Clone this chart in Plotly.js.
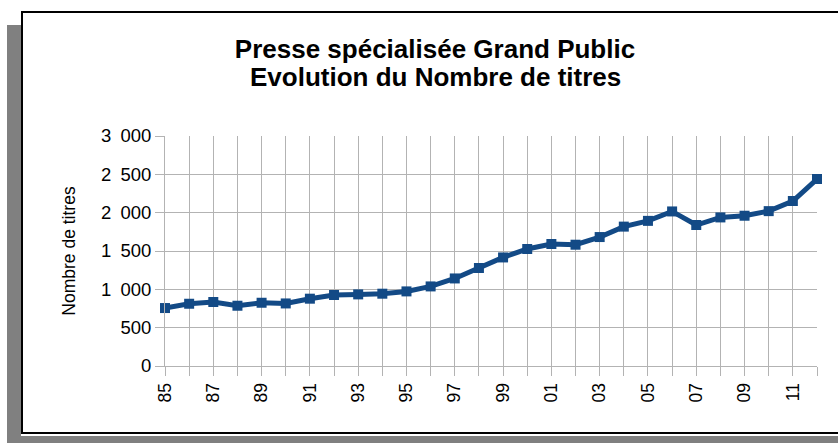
<!DOCTYPE html>
<html>
<head>
<meta charset="utf-8">
<script src="https://cdn.plot.ly/plotly-3.0.1.min.js"></script>
<style>
  html, body { margin: 0; padding: 0; background: #ffffff; }
  #wrap { position: relative; width: 838px; height: 443px; overflow: hidden; background: #ffffff; }
  .shadowL { position: absolute; left: 7px; top: 25px; width: 14px; height: 418px; background: #808080; }
  .shadowB { position: absolute; left: 7px; top: 436px; width: 831px; height: 7px; background: #808080; }
  .frame { position: absolute; left: 21px; top: 11px; width: 840px; height: 419px; border: 2px solid #000; background: #ffffff; }
  #chart { position: absolute; left: 0; top: 0; width: 838px; height: 443px; }
</style>
</head>
<body>
<div id="wrap">
  <div class="shadowL"></div>
  <div class="shadowB"></div>
  <div class="frame"></div>
  <div id="chart"></div>
</div>
<script>
const categories = ['85','86','87','88','89','90','91','92','93','94','95','96','97','98','99',
                    '00','01','02','03','04','05','06','07','08','09','10','11','12'];
const titres = [756, 812, 835, 786, 825, 816, 878, 926, 934, 943, 973, 1038, 1142, 1278, 1416,
                1526, 1591, 1582, 1682, 1818, 1893, 2016, 1839, 1938, 1960, 2020, 2152, 2439];
const xTickLabels = ['85','','87','','89','','91','','93','','95','','97','','99','',
                     '01','','03','','05','','07','','09','','11',''];
const yTickVals = [0, 500, 1000, 1500, 2000, 2500, 3000];
const yTickLabels = ['0', '500', '1\u2002000', '1\u2002500', '2\u2002000', '2\u2002500', '3\u2002000'];
const titleLine1 = 'Presse spécialisée Grand Public';
const titleLine2 = 'Evolution du Nombre de titres';
const yTitle = 'Nombre de titres';

const FONT = 'Liberation Sans, Arial, sans-serif';
const GRID = '#b3b3b3';

const trace = {
  type: 'scatter',
  mode: 'lines+markers',
  x: categories,
  y: titres,
  line: { color: '#134a86', width: 5 },
  marker: { symbol: 'square', size: 10, color: '#134a86' },
  cliponaxis: false,
  hoverinfo: 'x+y'
};

const layout = {
  width: 838,
  height: 443,
  margin: { l: 165, r: 21, t: 136, b: 77, pad: 0 },
  paper_bgcolor: 'rgba(0,0,0,0)',
  plot_bgcolor: 'rgba(0,0,0,0)',
  showlegend: false,
  font: { family: FONT, color: '#000000', size: 17 },
  title: {
    text: titleLine1,
    font: { family: FONT, size: 26, color: '#000000', weight: 'bold' },
    xref: 'container', yref: 'container',
    x: 435 / 838, xanchor: 'center',
    y: 1 - 49 / 443, yanchor: 'middle'
  },
  annotations: [{
    text: titleLine2,
    font: { family: FONT, size: 26, color: '#000000', weight: 'bold' },
    xref: 'paper', yref: 'paper',
    x: (435 - 165) / 652, xanchor: 'center',
    y: (366 - 77) / 230, yanchor: 'middle',
    showarrow: false
  }],
  xaxis: {
    type: 'category',
    categoryorder: 'array',
    categoryarray: categories,
    range: [0, categories.length - 1],
    tickmode: 'array',
    tickvals: categories,
    ticktext: xTickLabels,
    tickangle: -90,
    ticks: 'outside',
    ticklen: 9,
    tickcolor: GRID,
    tickwidth: 1,
    showgrid: true,
    gridcolor: GRID,
    gridwidth: 1,
    showline: true,
    linecolor: GRID,
    linewidth: 1,
    zeroline: false,
    tickfont: { family: FONT, size: 17.5, color: '#000000' },
    fixedrange: true
  },
  yaxis: {
    range: [0, 3000],
    tickmode: 'array',
    tickvals: yTickVals,
    ticktext: yTickLabels,
    ticks: 'outside',
    ticklen: 9,
    tickcolor: GRID,
    tickwidth: 1,
    showgrid: true,
    gridcolor: GRID,
    gridwidth: 1,
    showline: true,
    linecolor: GRID,
    linewidth: 1,
    zeroline: false,
    tickfont: { family: FONT, size: 18.5, color: '#000000' },
    title: { text: yTitle, font: { family: FONT, size: 17.5, color: '#000000' }, standoff: 20 },
    fixedrange: true
  }
};

Plotly.newPlot('chart', [trace], layout, { displayModeBar: false, staticPlot: true });
</script>
</body>
</html>
